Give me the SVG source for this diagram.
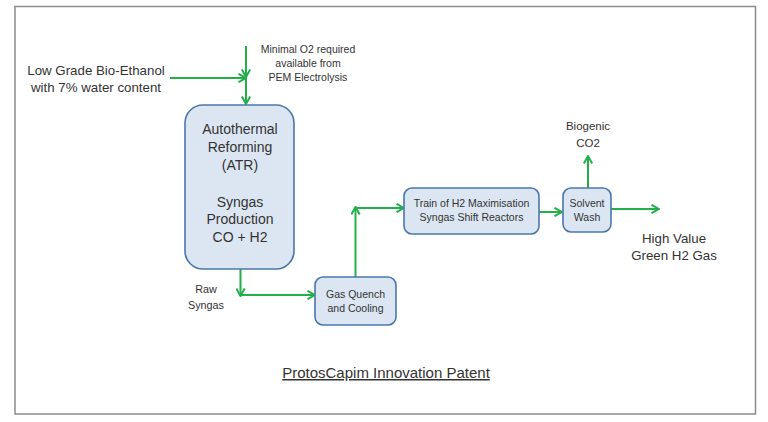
<svg xmlns="http://www.w3.org/2000/svg" width="768" height="422" viewBox="0 0 768 422">
<defs>
<marker id="ah" viewBox="0 0 10 10" refX="9" refY="5" markerWidth="10" markerHeight="10" orient="auto" markerUnits="userSpaceOnUse">
<path d="M1.5,0.8 L9,5 L1.5,9.2" fill="none" stroke="#22b04b" stroke-width="2"/>
</marker>
<style>
.box{fill:#dce6f2;stroke:#4a78aa;stroke-width:1.6}
.c{fill:none;stroke:#22b04b;stroke-width:2;marker-end:url(#ah)}
text{font-family:"Liberation Sans",Arial,sans-serif;fill:#333;text-anchor:middle}
.big{font-size:13.3px}
.atr{font-size:14px}
.sm{font-size:10.5px}
.md{font-size:10.8px}
.co{font-size:11.5px}
.ttl{font-size:15px}
</style>
</defs>
<rect x="0" y="0" width="768" height="422" fill="#fff"/>
<rect x="15" y="6.5" width="740.5" height="407.5" fill="#fff" stroke="#8a8a90" stroke-width="1.5"/>

<g id="connectors">
<path class="c" d="M170,78 H246"/>
<path class="c" d="M246,46 V77"/>
<path class="c" d="M246,78 V104"/>
<path class="c" d="M240.5,269 V296"/>
<path class="c" d="M240.5,295 H315"/>
<path class="c" d="M355.5,277 V207"/>
<path class="c" d="M355.5,208 H404"/>
<path class="c" d="M539,212 H562"/>
<path class="c" d="M588,188 V156"/>
<path class="c" d="M611,209 H659"/>
</g>

<g id="feed">
<text class="big" x="96" y="75">Low Grade Bio-Ethanol</text>
<text class="big" x="96" y="92">with 7% water content</text>
</g>
<g id="o2">
<text class="sm" x="308" y="53">Minimal O2 required</text>
<text class="sm" x="308" y="67">available from</text>
<text class="sm" x="308" y="81">PEM Electrolysis</text>
</g>
<g id="atr">
<rect class="box" x="185" y="105" width="109" height="164" rx="18"/>
<text class="atr" x="240" y="134">Autothermal</text>
<text class="atr" x="240" y="152">Reforming</text>
<text class="atr" x="240" y="170">(ATR)</text>
<text class="atr" x="240" y="207">Syngas</text>
<text class="atr" x="240" y="224">Production</text>
<text class="atr" x="240" y="242">CO + H2</text>
</g>
<g id="raw">
<text class="md" x="206" y="293">Raw</text>
<text class="md" x="206" y="309">Syngas</text>
</g>
<g id="quench">
<rect class="box" x="315" y="277" width="81" height="48" rx="8"/>
<text class="sm" x="355.5" y="298">Gas Quench</text>
<text class="sm" x="355.5" y="312">and Cooling</text>
</g>
<g id="train">
<rect class="box" x="404" y="188" width="135" height="46" rx="8"/>
<text class="sm" x="471.5" y="207">Train of H2 Maximisation</text>
<text class="sm" x="471.5" y="221">Syngas Shift Reactors</text>
</g>
<g id="solvent">
<rect class="box" x="563" y="188" width="48" height="44" rx="8"/>
<text class="sm" x="587" y="207">Solvent</text>
<text class="sm" x="587" y="221">Wash</text>
</g>
<g id="co2">
<text class="co" x="588" y="130">Biogenic</text>
<text class="co" x="588" y="147">CO2</text>
</g>
<g id="h2">
<text class="big" x="674" y="243">High Value</text>
<text class="big" x="674" y="260">Green H2 Gas</text>
</g>
<g id="title">
<text class="ttl" x="386" y="378" text-decoration="underline">ProtosCapim Innovation Patent</text>
</g>
</svg>
